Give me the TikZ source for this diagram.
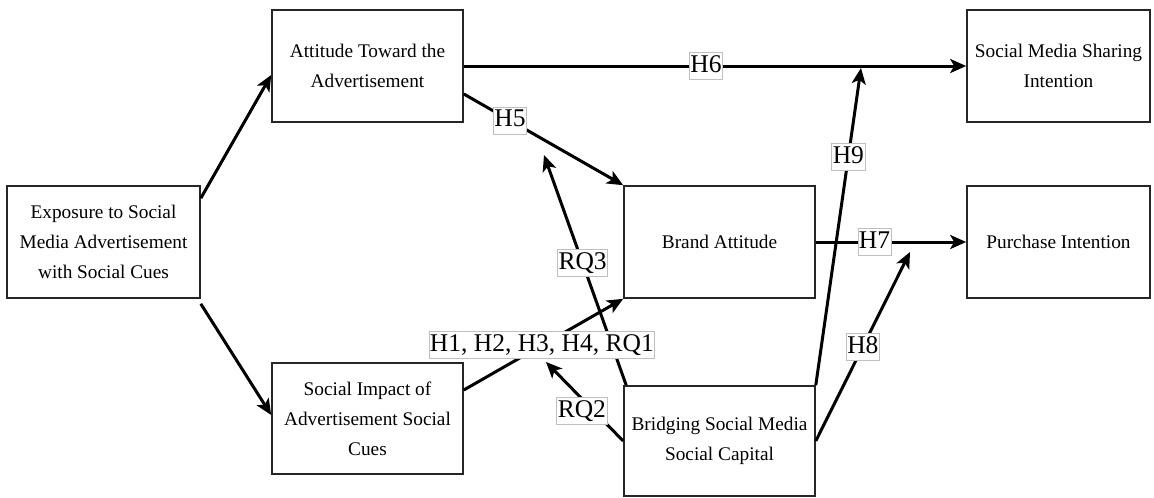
\documentclass[tikz,border=0pt]{standalone}
\usepackage{fontspec}
\setmainfont{Liberation Serif}
\usetikzlibrary{arrows.meta}
\begin{document}
\begin{tikzpicture}[x=1pt,y=-1pt,
  box/.style={draw=black!85, line width=1.6pt, align=center,
    font=\fontsize{19.3}{30}\selectfont, inner sep=0pt, minimum height=112pt},
  lab/.style={draw=black!25, line width=0.7pt, fill=white,
    font=\fontsize{25.5}{28}\selectfont, inner xsep=1pt, inner ysep=2pt,
    text height=18pt, text depth=5pt},
  arr/.style={line width=3pt, -{Stealth[length=16pt,width=14pt,inset=4pt]}}]
\useasboundingbox (0,0) rectangle (1154,498);
\fill[white] (0,0) rectangle (1154,498);

\node[box, minimum width=193pt] (exp) at (103.5,242) {Exposure to Social\\Media Advertisement\\with Social Cues};
\node[box, minimum width=191pt] (att) at (367.5,66) {Attitude Toward the\\Advertisement};
\node[box, minimum width=191pt, minimum height=111pt] (soc) at (367.5,418.5) {Social Impact of\\Advertisement Social\\Cues};
\node[box, minimum width=191pt] (brand) at (719.5,242) {Brand Attitude};
\node[box, minimum width=191pt, minimum height=110pt] (bridge) at (719.5,441) {Bridging Social Media\\Social Capital};
\node[box, minimum width=183pt] (share) at (1058.5,66) {Social Media Sharing\\Intention};
\node[box, minimum width=183pt] (purch) at (1058.5,242) {Purchase Intention};

\coordinate (t9) at (861,68);
\coordinate (t8) at (910,252);
\coordinate (t3) at (544,155);
\coordinate (t2) at (546,362);

\draw[arr] ([xshift=3pt]bridge.north west) -- (t3) node[lab,pos=0.53]{RQ3};
\draw[arr] (bridge.west) -- (t2) node[lab,pos=0.38,xshift=-12pt]{RQ2};
\draw[arr] (bridge.north east) -- (t9) node[lab,pos=0.72]{H9};
\draw[arr] (bridge.east) -- (t8) node[lab,pos=0.5]{H8};

\draw[arr] ([yshift=-13pt]exp.north east) -- ([yshift=-9pt]att.west);
\draw[arr] ([yshift=-5pt]exp.south east) -- ([yshift=3.5pt]soc.west);
\draw[arr] (att.east) -- (share.west) node[lab,pos=0.482]{H6};
\draw[arr] ([yshift=-28pt]att.east) -- (brand.north west) node[lab,pos=0.29]{H5};
\draw[arr] ([yshift=28.5pt]soc.east) -- (brand.south west) node[lab,pos=0.49]{H1, H2, H3, H4, RQ1};
\draw[arr] (brand.east) -- (purch.west) node[lab,pos=0.39]{H7};
\end{tikzpicture}
\end{document}
